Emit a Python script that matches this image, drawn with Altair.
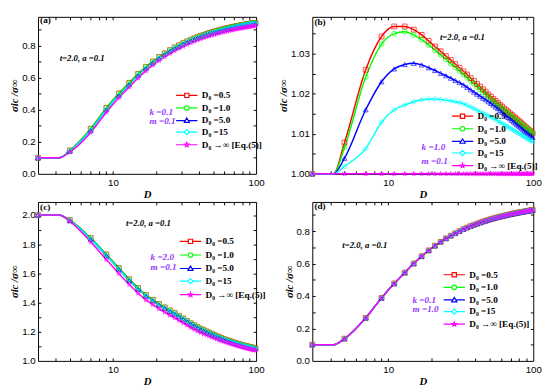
import altair as alt
import pandas as pd

# ---------------- data ----------------
D_mark = [3, 5, 7, 9, 11, 13, 15, 17, 19, 21, 23, 25, 27, 29, 31, 33, 35, 37, 39, 41,
          43, 45, 47, 49, 51, 53, 55, 57, 59, 61, 63, 65, 67, 69, 71, 73, 75, 77, 79, 81,
          83, 85, 87, 89, 91, 93, 95, 97, 99]
D_knee = 4.2  # curves stay flat up to about here

series = ["D₀ =0.5", "D₀ =1.0", "D₀ =5.0", "D₀ =15", "D₀ →∞ [Eq.(5)]"]
colors = ["#FF0000", "#00FF00", "#0000FF", "#00FFFF", "#FF00FF"]

# panel (a)  k=0.1, m=0.1
a_hi = [0.100, 0.146, 0.282, 0.412, 0.502, 0.568, 0.624, 0.668, 0.701, 0.729,
        0.752, 0.772, 0.789, 0.803, 0.816, 0.827, 0.837, 0.846, 0.854, 0.861,
        0.867, 0.873, 0.879, 0.884, 0.888, 0.892, 0.896, 0.900, 0.903, 0.907,
        0.910, 0.912, 0.915, 0.917, 0.920, 0.922, 0.924, 0.926, 0.928, 0.930,
        0.931, 0.933, 0.934, 0.936, 0.937, 0.939, 0.940, 0.941, 0.942]
a_mid = [0.100, 0.142, 0.272, 0.400, 0.490, 0.557, 0.614, 0.659, 0.693, 0.722,
         0.746, 0.766, 0.783, 0.797, 0.811, 0.822, 0.832, 0.841, 0.849, 0.856,
         0.863, 0.869, 0.875, 0.880, 0.884, 0.888, 0.892, 0.896, 0.899, 0.904,
         0.907, 0.909, 0.912, 0.914, 0.917, 0.919, 0.921, 0.923, 0.925, 0.928,
         0.929, 0.931, 0.932, 0.934, 0.935, 0.937, 0.938, 0.939, 0.940]
a_mag = [0.100, 0.135, 0.258, 0.385, 0.475, 0.542, 0.598, 0.643, 0.679, 0.707,
         0.731, 0.751, 0.768, 0.783, 0.796, 0.808, 0.818, 0.827, 0.835, 0.842,
         0.849, 0.855, 0.860, 0.865, 0.870, 0.874, 0.878, 0.882, 0.885, 0.888,
         0.891, 0.894, 0.897, 0.899, 0.902, 0.904, 0.906, 0.908, 0.910, 0.912,
         0.913, 0.915, 0.917, 0.918, 0.920, 0.921, 0.922, 0.924, 0.925]

# panel (b)  k=1.0, m=0.1
b_red = [1.0000, 1.0078, 1.0260, 1.0343, 1.0368, 1.0368, 1.0360, 1.0347, 1.0332, 1.0318,
         1.0306, 1.0294, 1.0284, 1.0274, 1.0265, 1.0256, 1.0248, 1.0239, 1.0232, 1.0224,
         1.0218, 1.0211, 1.0205, 1.0198, 1.0193, 1.0187, 1.0182, 1.0177, 1.0172, 1.0168,
         1.0163, 1.0159, 1.0155, 1.0151, 1.0147, 1.0143, 1.0140, 1.0136, 1.0133, 1.0129,
         1.0126, 1.0123, 1.0119, 1.0116, 1.0113, 1.0110, 1.0107, 1.0104, 1.0101]
b_green = [1.0000, 1.0066, 1.0242, 1.0324, 1.0350, 1.0355, 1.0347, 1.0335, 1.0322, 1.0309,
           1.0297, 1.0286, 1.0275, 1.0266, 1.0257, 1.0248, 1.0240, 1.0232, 1.0225, 1.0217,
           1.0211, 1.0204, 1.0198, 1.0192, 1.0186, 1.0181, 1.0176, 1.0172, 1.0167, 1.0163,
           1.0159, 1.0155, 1.0151, 1.0147, 1.0143, 1.0140, 1.0136, 1.0133, 1.0130, 1.0126,
           1.0123, 1.0120, 1.0117, 1.0114, 1.0112, 1.0109, 1.0106, 1.0103, 1.0101]
b_blue = [1.0000, 1.0039, 1.0160, 1.0230, 1.0262, 1.0273, 1.0276, 1.0272, 1.0265, 1.0258,
          1.0251, 1.0245, 1.0239, 1.0233, 1.0228, 1.0222, 1.0216, 1.0210, 1.0204, 1.0199,
          1.0194, 1.0189, 1.0185, 1.0180, 1.0176, 1.0172, 1.0167, 1.0163, 1.0158, 1.0154,
          1.0149, 1.0145, 1.0141, 1.0138, 1.0134, 1.0130, 1.0127, 1.0123, 1.0120, 1.0117,
          1.0114, 1.0110, 1.0107, 1.0104, 1.0102, 1.0099, 1.0096, 1.0093, 1.0091]
b_cyan = [1.0000, 1.0019, 1.0063, 1.0129, 1.0160, 1.0172, 1.0180, 1.0185, 1.0187, 1.0187,
          1.0186, 1.0184, 1.0182, 1.0180, 1.0178, 1.0175, 1.0171, 1.0167, 1.0163, 1.0159,
          1.0155, 1.0152, 1.0148, 1.0145, 1.0142, 1.0139, 1.0136, 1.0132, 1.0129, 1.0126,
          1.0123, 1.0120, 1.0117, 1.0114, 1.0112, 1.0109, 1.0106, 1.0104, 1.0101, 1.0099,
          1.0097, 1.0094, 1.0092, 1.0090, 1.0088, 1.0086, 1.0084, 1.0082, 1.0080]
b_mag = [1.0000, 1.0000, 1.0000, 1.0000, 1.0000, 1.0000, 1.0000, 1.0000, 1.0000, 1.0000,
         1.0000, 1.0000, 1.0000, 1.0000, 1.0000, 1.0000, 1.0000, 1.0000, 1.0000, 1.0000,
         1.0000, 1.0000, 1.0000, 1.0000, 1.0000, 1.0000, 1.0000, 1.0000, 1.0000, 1.0000,
         1.0000, 1.0000, 1.0000, 1.0000, 1.0000, 1.0000, 1.0000, 1.0000, 1.0000, 1.0000,
         1.0000, 1.0000, 1.0000, 1.0000, 1.0000, 1.0000, 1.0000, 1.0000, 1.0000]

# panel (c)  k=2.0, m=0.1
c_hi = [2.000, 1.965, 1.842, 1.730, 1.637, 1.560, 1.500, 1.452, 1.419, 1.390,
        1.367, 1.346, 1.328, 1.309, 1.291, 1.274, 1.258, 1.245, 1.232, 1.221,
        1.211, 1.202, 1.194, 1.186, 1.178, 1.170, 1.163, 1.157, 1.151, 1.146,
        1.141, 1.136, 1.132, 1.128, 1.124, 1.120, 1.116, 1.113, 1.110, 1.107,
        1.104, 1.102, 1.099, 1.097, 1.094, 1.092, 1.090, 1.088, 1.086]
c_mid = [2.000, 1.962, 1.835, 1.722, 1.629, 1.552, 1.492, 1.445, 1.412, 1.384,
         1.361, 1.340, 1.322, 1.304, 1.286, 1.269, 1.253, 1.240, 1.228, 1.217,
         1.207, 1.198, 1.190, 1.182, 1.175, 1.167, 1.160, 1.154, 1.148, 1.143,
         1.138, 1.133, 1.129, 1.125, 1.121, 1.118, 1.114, 1.111, 1.108, 1.105,
         1.102, 1.100, 1.097, 1.095, 1.092, 1.090, 1.088, 1.086, 1.084]
c_mag = [2.000, 1.957, 1.816, 1.695, 1.599, 1.524, 1.464, 1.418, 1.386, 1.357,
         1.334, 1.313, 1.295, 1.277, 1.260, 1.244, 1.229, 1.216, 1.204, 1.194,
         1.185, 1.177, 1.170, 1.163, 1.156, 1.150, 1.144, 1.139, 1.134, 1.129,
         1.125, 1.120, 1.117, 1.113, 1.109, 1.106, 1.102, 1.099, 1.096, 1.093,
         1.090, 1.088, 1.085, 1.083, 1.080, 1.078, 1.076, 1.074, 1.072]

# panel (d)  k=0.1, m=1.0  (all five curves coincide)
d_all = [0.100, 0.137, 0.265, 0.388, 0.477, 0.544, 0.600, 0.645, 0.681, 0.710,
         0.734, 0.755, 0.772, 0.787, 0.800, 0.812, 0.822, 0.831, 0.839, 0.846,
         0.853, 0.859, 0.864, 0.869, 0.874, 0.878, 0.882, 0.886, 0.889, 0.892,
         0.895, 0.898, 0.901, 0.903, 0.906, 0.908, 0.910, 0.912, 0.914, 0.916,
         0.918, 0.919, 0.921, 0.923, 0.924, 0.926, 0.927, 0.929, 0.930]

x_ticks = [4, 5, 6, 7, 8, 9, 10, 20, 30, 40, 50, 60, 70, 80, 90]
y_major_01 = [0.0, 0.2, 0.4, 0.6, 0.8]
y_minor_01 = [0.1, 0.2, 0.3, 0.4, 0.5, 0.6, 0.7, 0.8, 0.9]
y_major_b = [1.00, 1.01, 1.02, 1.03]
y_minor_b = [1.005, 1.01, 1.015, 1.02, 1.025, 1.03, 1.035]
y_major_c = [1.0, 1.2, 1.4, 1.6, 1.8, 2.0]
y_minor_c = [1.1, 1.2, 1.3, 1.4, 1.5, 1.6, 1.7, 1.8, 1.9, 2.0]

# ---------------- styling ----------------
SERIF = "Liberation Serif"
SANS = "Liberation Sans"
PURPLE = "#9933FF"

STAR = ("M0,-1L0.247,-0.34L0.951,-0.309L0.399,0.13L0.588,0.809L0,0.42"
        "L-0.588,0.809L-0.399,0.13L-0.951,-0.309L-0.247,-0.34Z")
pt_shapes = ["square", "circle", "triangle-up", "diamond", STAR]
leg_shapes = [
    "M-2,0H-0.4M0.4,0H2M-0.4,-0.4H0.4V0.4H-0.4Z",
    "M-2,0H-0.42M0.42,0H2M0.42,0A0.42,0.42,0,1,1,-0.42,0A0.42,0.42,0,1,1,0.42,0",
    "M-2,0H-0.28M0.28,0H2M0,-0.48L0.48,0.35H-0.48Z",
    "M-2,0H-0.48M0.48,0H2M0,-0.48L0.48,0L0,0.48L-0.48,0Z",
    "M-2,0H-0.26M0.26,0H2M0,-0.42L0.1,-0.143L0.4,-0.13L0.168,0.054L0.247,0.34"
    "L0,0.178L-0.247,0.34L-0.168,0.054L-0.4,-0.13L-0.1,-0.143Z",
]


def frames(vals):
    line_rows, pt_rows, first_rows = [], [], []
    for s, v in zip(series, vals):
        assert len(v) == len(D_mark), (s, len(v))
        line_rows.append(dict(D=D_mark[0], v=v[0], s=s))
        line_rows.append(dict(D=D_knee, v=v[0], s=s))
        for d, y in zip(D_mark[1:], v[1:]):
            line_rows.append(dict(D=d, v=y, s=s))
        for d, y in zip(D_mark, v):
            pt_rows.append(dict(D=d, v=y, s=s))
        first_rows.append(dict(D=D_mark[0], v=v[0], s=s))
    return pd.DataFrame(line_rows), pd.DataFrame(pt_rows), pd.DataFrame(first_rows)


def panel(vals, ydom, y_major, y_minor, yfmt, W, H, leg_x, leg_y, rowpad, tag, ta, km):
    lines_df, pts_df, first_df = frames(vals)
    xs = alt.Scale(type="log", domain=[3, 100], nice=False)
    ys = alt.Scale(domain=ydom, nice=False, zero=False)
    cs = alt.Scale(domain=series, range=colors)
    tk = dict(labels=False, domain=False, grid=False, tickSize=3, tickColor="black",
              tickWidth=1, title=None)

    lines = alt.Chart(lines_df).mark_line(strokeWidth=1.5, interpolate="monotone").encode(
        x=alt.X("D:Q", scale=xs, axis=alt.Axis(
            orient="bottom", values=[10, 100], format="d", tickSize=0, domain=False,
            grid=False, labelPadding=4, labelFlush=False, title="D", titleFont=SERIF,
            titleFontStyle="italic", titleFontWeight="bold", titleFontSize=11,
            titlePadding=1)),
        y=alt.Y("v:Q", scale=ys, axis=alt.Axis(
            orient="left", values=y_major, format=yfmt, tickSize=0, domain=False,
            grid=False, labelPadding=3, labelFlush=False, title="σic /σ∞",
            titleFont=SERIF, titleFontStyle="italic", titleFontWeight="bold",
            titleFontSize=11, titlePadding=2)),
        color=alt.Color("s:N", scale=cs, legend=None),
    )
    pts = alt.Chart(pts_df).mark_point(filled=False, size=25, strokeWidth=1).encode(
        x=alt.X("D:Q", scale=xs, axis=alt.Axis(orient="top", offset=-H, values=x_ticks, **tk)),
        y=alt.Y("v:Q", scale=ys, axis=alt.Axis(orient="right", offset=-W, values=y_minor, **tk)),
        color=alt.Color("s:N", scale=cs, legend=None),
        shape=alt.Shape("s:N", scale=alt.Scale(domain=series, range=pt_shapes), legend=None),
    )
    leg = alt.Legend(title=None, orient="none", legendX=leg_x, legendY=leg_y,
                     rowPadding=rowpad, labelFont=SERIF, labelFontWeight="bold",
                     labelFontSize=9.5, labelColor="black", labelOffset=9,
                     symbolSize=121, symbolStrokeWidth=1.2, padding=0, labelLimit=200)
    dummy = alt.Chart(first_df).mark_point(filled=False, opacity=0, size=121,
                                            strokeWidth=1.2).encode(
        x=alt.X("D:Q", scale=xs, axis=alt.Axis(orient="bottom", offset=-H, values=x_ticks, **tk)),
        y=alt.Y("v:Q", scale=ys, axis=alt.Axis(orient="left", offset=-W, values=y_minor, **tk)),
        color=alt.Color("s:N", scale=cs, legend=leg),
        shape=alt.Shape("s:N", scale=alt.Scale(domain=series, range=leg_shapes), legend=leg),
    )

    def txt(rows, align, color, size, style):
        return alt.Chart(pd.DataFrame(rows)).mark_text(
            align=align, baseline="middle", font=SERIF, fontWeight="bold",
            fontStyle=style, fontSize=size, color=color).encode(
            x=alt.X("D:Q", scale=xs, axis=None),
            y=alt.Y("v:Q", scale=ys, axis=None),
            text="t:N")

    t_tag = txt([tag], "left", "black", 9.5, "normal")
    t_ta = txt([ta], "center", "black", 9, "italic")
    t_km = txt(km, "left", PURPLE, 9.5, "italic")

    return alt.layer(lines, pts, dummy, t_tag, t_ta, t_km).resolve_scale(
        color="independent", shape="independent").resolve_legend(
        color="independent", shape="independent").resolve_axis(
        x="independent", y="independent").properties(width=W, height=H)


W_L, W_R = 225, 228
H_T, H_B = 162, 164

pa = panel([a_hi, a_hi, a_mid, a_mid, a_mag], [0, 0.98], y_major_01, y_minor_01, ".1f",
           W_L, H_T, 147, 74.5, 1,
           dict(D=3.1, v=0.962, t="(a)"), dict(D=6.1, v=0.725, t="t=2.0, a =0.1"),
           [dict(D=18, v=0.386, t="k =0.1"), dict(D=18, v=0.327, t="m =0.1")])
pb = panel([b_red, b_green, b_blue, b_cyan, b_mag], [1.0, 1.0392], y_major_b, y_minor_b, ".2f",
           W_R, H_T, 148.5, 96, 1,
           dict(D=3.1, v=1.0379, t="(b)"), dict(D=32.5, v=1.0341, t="t=2.0, a =0.1"),
           [dict(D=17, v=1.0066, t="k =1.0"), dict(D=17, v=1.0033, t="m =0.1")])
pc = panel([c_hi, c_hi, c_mid, c_mid, c_mag], [1.0, 2.09], y_major_c, y_minor_c, ".1f",
           W_L, H_B, 150.8, 34.2, 2,
           dict(D=3.1, v=2.053, t="(c)"), dict(D=17.7, v=1.947, t="t=2.0, a =0.1"),
           [dict(D=18.3, v=1.71, t="k =2.0"), dict(D=18.3, v=1.645, t="m =0.1")])
pd_ = panel([d_all, d_all, d_all, d_all, d_all], [0, 0.98], y_major_01, y_minor_01, ".1f",
            W_R, H_B, 140, 68.6, 1,
            dict(D=3.1, v=0.957, t="(d)"), dict(D=6.9, v=0.713, t="t=2.0, a =0.1"),
            [dict(D=14.7, v=0.375, t="k =0.1"), dict(D=14.7, v=0.317, t="m =1.0")])

chart = alt.concat(pa, pb, pc, pd_, columns=2, spacing={"row": 0, "column": 10},
                   align="each").resolve_scale(
    color="independent", shape="independent").resolve_legend(
    color="independent", shape="independent").properties(padding=0).configure_view(
    stroke="black", strokeWidth=1).configure_axis(
    labelFont=SANS, labelFontSize=10, labelColor="black", titleColor="black")

chart.save("out.html", embed_options={"renderer": "svg", "actions": False})
